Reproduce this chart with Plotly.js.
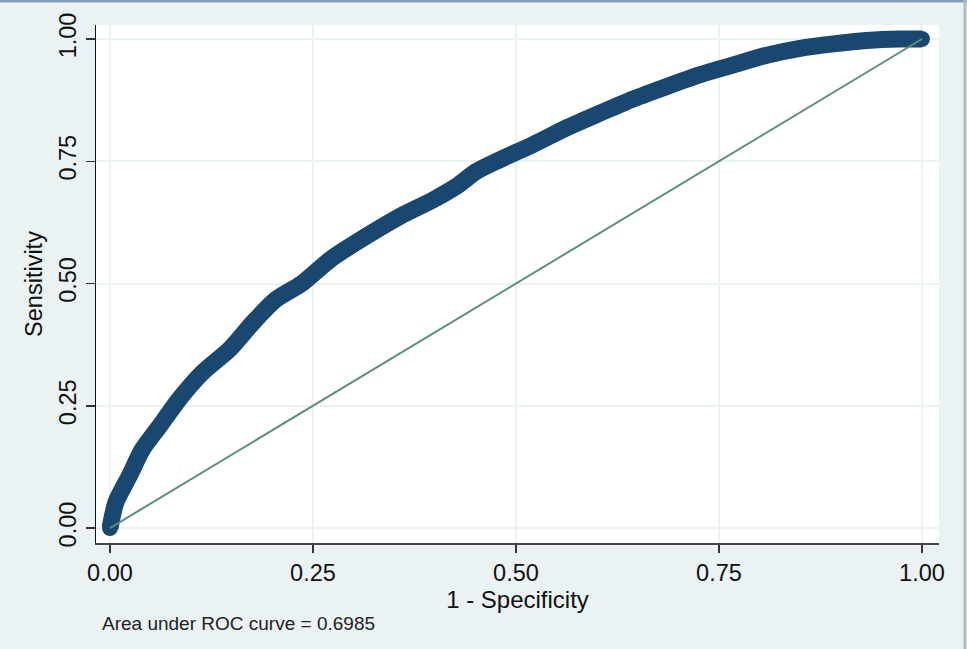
<!DOCTYPE html>
<html>
<head>
<meta charset="utf-8">
<script src="https://cdn.plot.ly/plotly-3.0.1.min.js"></script>
<style>
  html, body { margin: 0; padding: 0; background: #eaf2f3; }
  #graph_area { width: 967px; height: 649px; }
</style>
</head>
<body>
<div id="graph_area"></div>
<script>
// ROC curve
const fpr = [0, 0.0074, 0.024, 0.040, 0.061, 0.085, 0.114, 0.147, 0.176, 0.204, 0.237, 0.272,
             0.316, 0.357, 0.398, 0.427, 0.451, 0.480, 0.521, 0.562, 0.603, 0.644, 0.686,
             0.727, 0.768, 0.809, 0.850, 0.891, 0.932, 0.973, 1.0];
const tpr = [0, 0.053, 0.107, 0.161, 0.208, 0.263, 0.318, 0.365, 0.420, 0.467, 0.501, 0.550,
             0.597, 0.637, 0.671, 0.699, 0.729, 0.753, 0.784, 0.818, 0.848, 0.877, 0.903,
             0.927, 0.947, 0.967, 0.981, 0.990, 0.997, 1.0, 1.0];

const refX = [0, 1];
const refY = [0, 1];

const tickVals = [0, 0.25, 0.5, 0.75, 1];
const tickText = ["0.00", "0.25", "0.50", "0.75", "1.00"];

const aucText = "Area under ROC curve = 0.6985";

const navy = "#1a476f";
const teal = "#5e8e7e";
const font = "Liberation Sans, Arial, sans-serif";

Plotly.newPlot("graph_area", [
    {
        x: fpr,
        y: tpr,
        mode: "lines+markers",
        type: "scatter",
        line: { color: navy, width: 17, shape: "spline", smoothing: 0.7 },
        marker: { color: navy, size: 16 },
        hoverinfo: "skip",
    },
    {
        x: refX,
        y: refY,
        mode: "lines",
        type: "scatter",
        line: { color: teal, width: 2 },
        hoverinfo: "skip",
    },
], {
    width: 967,
    height: 649,
    margin: { l: 96, r: 28, t: 25, b: 106 },
    paper_bgcolor: "#eaf2f3",
    plot_bgcolor: "#ffffff",
    showlegend: false,
    font: { family: font, size: 24, color: "#111" },
    xaxis: {
        range: [-0.0172, 1.021],
        tickvals: tickVals,
        ticktext: tickText,
        showgrid: true,
        gridcolor: "#eaf2f3",
        gridwidth: 2,
        zeroline: false,
        showline: true,
        linecolor: "#444",
        linewidth: 1.5,
        ticks: "outside",
        ticklen: 8,
        tickwidth: 1.5,
        tickcolor: "#333",
        tickfont: { family: font, size: 23.5 },
        title: { text: "1 - Specificity", font: { family: font, size: 24 }, standoff: 0 },
    },
    yaxis: {
        range: [-0.0306, 1.0286],
        tickvals: tickVals,
        ticktext: tickText,
        tickangle: -90,
        showgrid: true,
        gridcolor: "#eaf2f3",
        gridwidth: 2,
        zeroline: false,
        showline: true,
        linecolor: "#111",
        linewidth: 1.5,
        ticks: "outside",
        ticklen: 9,
        tickwidth: 1.5,
        tickcolor: "#333",
        tickfont: { family: font, size: 23.5 },
        title: { text: "Sensitivity", font: { family: font, size: 23.5 }, standoff: 6 },
    },
    annotations: [{
        text: aucText,
        xref: "paper", yref: "paper",
        x: 0.0047, y: -0.156,
        xanchor: "left", yanchor: "middle",
        showarrow: false,
        font: { family: font, size: 19, color: "#222" },
    }],
    shapes: [
        { type: "line", xref: "paper", yref: "paper", x0: -0.12, x1: 1.04, y0: 1.0463, y1: 1.0463,
          line: { color: "#7f9dba", width: 3 } },
        { type: "line", xref: "paper", yref: "paper", x0: 1.0308, x1: 1.0308, y0: -0.21, y1: 1.05,
          line: { color: "#b3bcc0", width: 3 } },
    ],
}, { staticPlot: true });
</script>
</body>
</html>
